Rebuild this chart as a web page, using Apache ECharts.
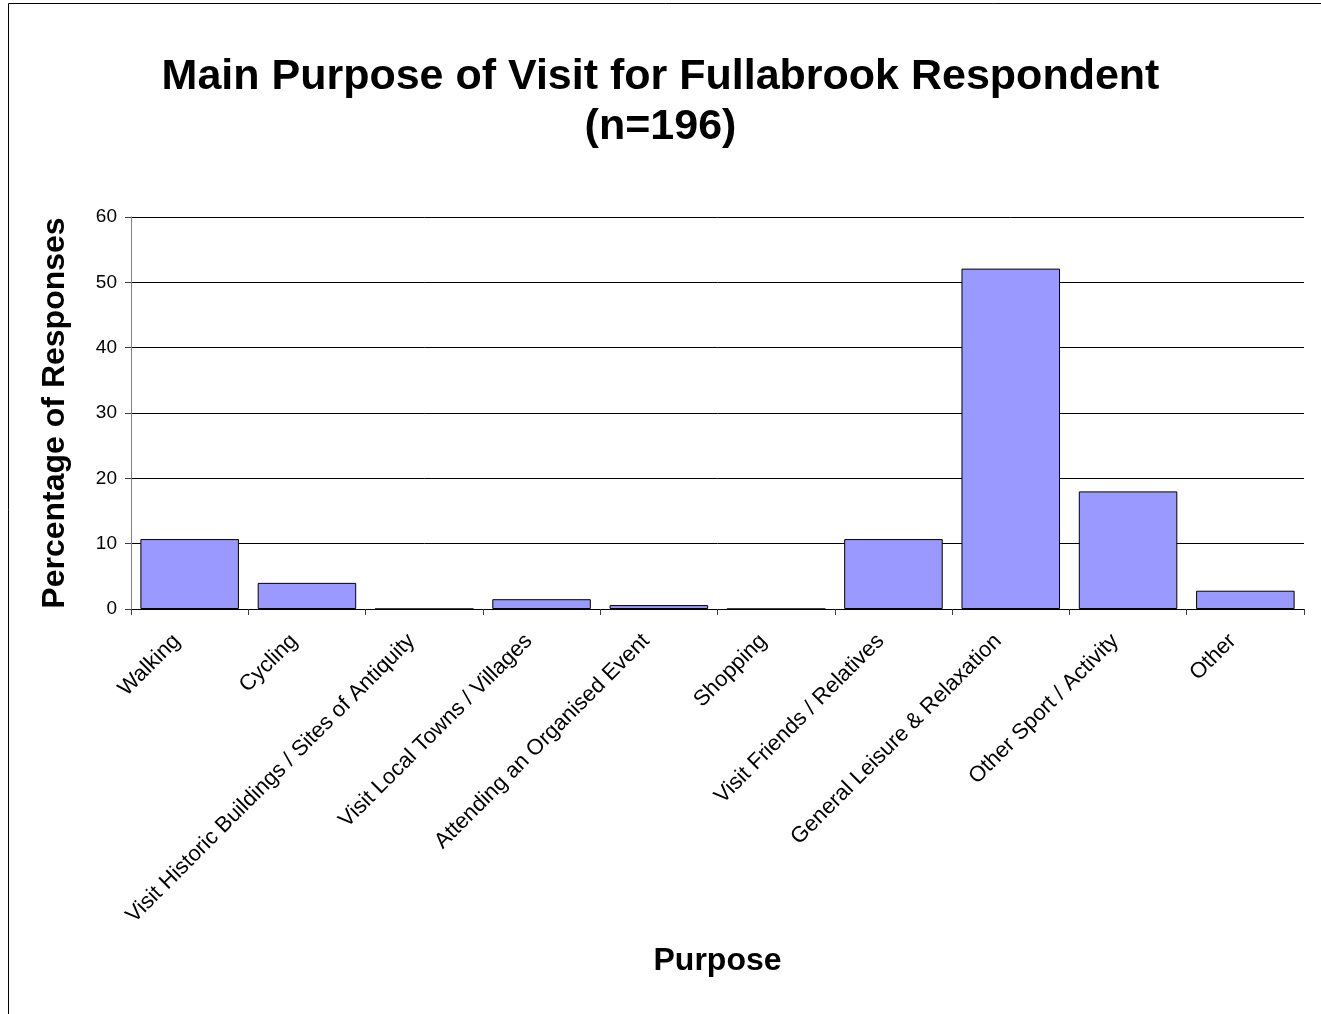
<!DOCTYPE html>
<html>
<head>
<meta charset="utf-8">
<script src="https://cdn.jsdelivr.net/npm/echarts@6/dist/echarts.min.js"></script>
<style>html,body{margin:0;padding:0;background:#fff}#c{width:1321px;height:1014px}</style>
</head>
<body>
<div id="c"></div>
<script>
var categories = ['Walking','Cycling','Visit Historic Buildings / Sites of Antiquity','Visit Local Towns / Villages','Attending an Organised Event','Shopping','Visit Friends / Relatives','General Leisure & Relaxation','Other Sport / Activity','Other'];
var values = [10.7, 4.0, 0, 1.5, 0.6, 0, 10.7, 52.1, 18.0, 2.8];
var titleLines = ['Main Purpose of Visit for Fullabrook Respondent', '(n=196)'];
var yName = 'Percentage of Responses';
var xName = 'Purpose';

var FONT = 'Liberation Sans, Arial, sans-serif';
var chart = echarts.init(document.getElementById('c'));
chart.setOption({
  backgroundColor: '#fff',
  animation: false,
  textStyle: { fontFamily: FONT },
  graphic: [
    { type: 'rect', shape: { x: 8.5, y: 3.5, width: 1400, height: 1100 }, style: { fill: 'none', stroke: '#000', lineWidth: 1 } }
  ],
  title: {
    text: titleLines.join('\n'),
    left: 'center',
    top: 52,
    padding: 0,
    textStyle: { fontSize: 43, fontWeight: 'bold', color: '#000', lineHeight: 50, fontFamily: FONT }
  },
  grid: { left: 131, right: 17, top: 217, bottom: 405, containLabel: false },
  xAxis: {
    type: 'category',
    data: categories,
    name: xName,
    nameLocation: 'middle',
    nameGap: 336,
    nameTextStyle: { fontSize: 32, fontWeight: 'bold', color: '#000', fontFamily: FONT },
    axisLine: { lineStyle: { color: '#000', width: 1 } },
    axisTick: { show: true, alignWithLabel: false, length: 6, lineStyle: { color: '#404040' } },
    axisLabel: { rotate: 45, fontSize: 22, color: '#000', margin: 16, padding: [0, 18, 0, 0], interval: 0, fontFamily: FONT }
  },
  yAxis: {
    type: 'value',
    min: 0, max: 60, interval: 10,
    name: yName,
    nameLocation: 'middle',
    nameGap: 60,
    nameTextStyle: { fontSize: 32, fontWeight: 'bold', color: '#000', fontFamily: FONT },
    axisLine: { show: true, lineStyle: { color: '#808080', width: 1 } },
    axisTick: { show: true, length: 6, lineStyle: { color: '#404040' } },
    axisLabel: { fontSize: 19, color: '#000', margin: 14, fontFamily: FONT },
    splitLine: { show: true, lineStyle: { color: '#000', width: 1 } }
  },
  series: [{
    type: 'bar',
    data: values,
    barCategoryGap: '16%',
    itemStyle: { color: '#9999FF', borderColor: '#000', borderWidth: 1 }
  }]
});
</script>
</body>
</html>
